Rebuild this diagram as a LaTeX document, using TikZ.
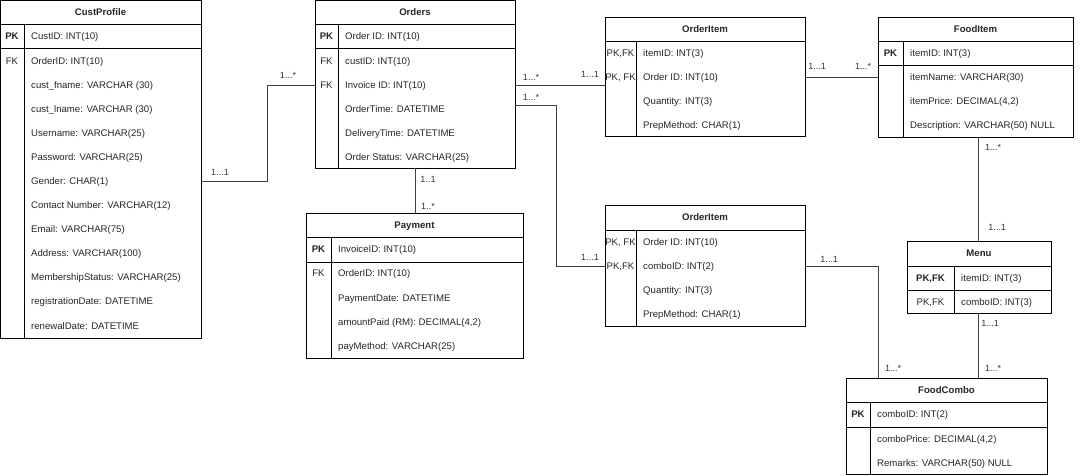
\documentclass[tikz,border=0pt]{standalone}
\usepackage{fontspec}
\setmainfont{Liberation Sans}
\newcommand\erfs{\fontsize{9.6}{11}\selectfont}
\newcommand\cardfs{\fontsize{9}{10}\selectfont}
\tikzset{
  ent/.style={draw=black, line width=1pt, inner sep=0pt, outer sep=0pt, anchor=north west, fill=white},
  sepline/.style={draw=black, line width=1pt},
  ttl/.style={font=\erfs\bfseries, text=black!85, inner sep=0pt, text height=6.9pt, text depth=0pt},
  attrib/.style={font=\erfs, text=black!85, inner sep=0pt, anchor=west, text height=6.9pt, text depth=0pt},
  keyt/.style={font=\erfs, text=black!85, inner sep=0pt, text height=6.9pt, text depth=0pt},
  keyb/.style={keyt, font=\erfs\bfseries},
  conn/.style={draw=black!75, line width=1pt},
  card/.style={font=\cardfs, text=black!80, inner sep=0pt, text height=6.5pt, text depth=0pt},
}
\begin{document}
\begin{tikzpicture}[x=1pt,y=-1pt]
\useasboundingbox (0,0) rectangle (1080,475);

% ---------------- CustProfile
\node[ent, minimum width=200.5pt, minimum height=337.5pt] (cust) at (0.5,0.5) {};
\draw[sepline] (0.5,24) -- (201,24);
\draw[sepline] (0.5,48) -- (201,48);
\draw[sepline] (24,24) -- (24,338);
\node[ttl] (custT) at (100.5,12) {CustProfile};
\node[keyb] (cK1) at (12,36) {PK};
\node[keyt] (cK2) at (12,61) {FK};
\node[attrib] (c1) at (31,36) {CustID: INT(10)};
\node[attrib] (c2) at (31,61) {OrderID: INT(10)};
\node[attrib] (c3) at (31,85) {cust\_fname: VARCHAR (30)};
\node[attrib] (c4) at (31,109) {cust\_lname: VARCHAR (30)};
\node[attrib] (c5) at (31,133) {Username: VARCHAR(25)};
\node[attrib] (c6) at (31,157) {Password: VARCHAR(25)};
\node[attrib] (c7) at (31,181) {Gender: CHAR(1)};
\node[attrib] (c8) at (31,205) {Contact Number: VARCHAR(12)};
\node[attrib] (c9) at (31,229) {Email: VARCHAR(75)};
\node[attrib] (c10) at (31,253) {Address: VARCHAR(100)};
\node[attrib] (c11) at (31,277) {MembershipStatus: VARCHAR(25)};
\node[attrib] (c12) at (31,301) {registrationDate: DATETIME};
\node[attrib] (c13) at (31,326) {renewalDate: DATETIME};

% ---------------- Orders
\node[ent, minimum width=200pt, minimum height=167.5pt] (ord) at (315,0.5) {};
\draw[sepline] (315,24) -- (515,24);
\draw[sepline] (315,48) -- (515,48);
\draw[sepline] (338,24) -- (338,168);
\node[ttl] (ordT) at (415,12) {Orders};
\node[keyb] (oK1) at (326.5,36) {PK};
\node[keyt] (oK2) at (326.5,61) {FK};
\node[keyt] (oK3) at (326.5,85) {FK};
\node[attrib] (o1) at (345,36) {Order ID: INT(10)};
\node[attrib] (o2) at (345,61) {custID: INT(10)};
\node[attrib] (o3) at (345,85) {Invoice ID: INT(10)};
\node[attrib] (o4) at (345,109) {OrderTime: DATETIME};
\node[attrib] (o5) at (345,133) {DeliveryTime: DATETIME};
\node[attrib] (o6) at (345,157) {Order Status: VARCHAR(25)};

% ---------------- Payment
\node[ent, minimum width=217pt, minimum height=145pt] (pay) at (306,213) {};
\draw[sepline] (306,237) -- (523,237);
\draw[sepline] (306,262) -- (523,262);
\draw[sepline] (331,237) -- (331,358);
\node[ttl] (payT) at (414.5,225) {Payment};
\node[keyb] (pK1) at (318.5,249) {PK};
\node[keyt] (pK2) at (318.5,273) {FK};
\node[attrib] (p1) at (338,249) {InvoiceID: INT(10)};
\node[attrib] (p2) at (338,273) {OrderID: INT(10)};
\node[attrib] (p3) at (338,298) {PaymentDate: DATETIME};
\node[attrib] (p4) at (338,322) {amountPaid (RM): DECIMAL(4,2)};
\node[attrib] (p5) at (338,346) {payMethod: VARCHAR(25)};

% ---------------- OrderItem (top)
\node[ent, minimum width=200pt, minimum height=119pt] (oia) at (605,17) {};
\draw[sepline] (605,41) -- (805,41);
\draw[sepline] (636,41) -- (636,136);
\node[ttl] (oiaT) at (705,29) {OrderItem};
\node[keyt] (aK1) at (620.5,53) {PK,FK};
\node[keyt] (aK2) at (620.5,77) {PK, FK};
\node[attrib] (a1) at (643,53) {itemID: INT(3)};
\node[attrib] (a2) at (643,77) {Order ID: INT(10)};
\node[attrib] (a3) at (643,101) {Quantity: INT(3)};
\node[attrib] (a4) at (643,125) {PrepMethod: CHAR(1)};

% ---------------- FoodItem
\node[ent, minimum width=195pt, minimum height=120pt] (fi) at (878,17) {};
\draw[sepline] (878,41) -- (1073,41);
\draw[sepline] (878,65) -- (1073,65);
\draw[sepline] (903,41) -- (903,137);
\node[ttl] (fiT) at (975.5,29) {FoodItem};
\node[keyb] (fK1) at (890.5,53) {PK};
\node[attrib] (f1) at (910,53) {itemID: INT(3)};
\node[attrib] (f2) at (910,77) {itemName: VARCHAR(30)};
\node[attrib] (f3) at (910,101) {itemPrice: DECIMAL(4,2)};
\node[attrib] (f4) at (910,125) {Description: VARCHAR(50) NULL};

% ---------------- OrderItem (bottom)
\node[ent, minimum width=200pt, minimum height=121pt] (oib) at (605,205) {};
\draw[sepline] (605,230) -- (805,230);
\draw[sepline] (636,230) -- (636,326);
\node[ttl] (oibT) at (705,217) {OrderItem};
\node[keyt] (bK1) at (620.5,242) {PK, FK};
\node[keyt] (bK2) at (620.5,266) {PK,FK};
\node[attrib] (b1) at (643,242) {Order ID: INT(10)};
\node[attrib] (b2) at (643,266) {comboID: INT(2)};
\node[attrib] (b3) at (643,290) {Quantity: INT(3)};
\node[attrib] (b4) at (643,314) {PrepMethod: CHAR(1)};

% ---------------- Menu
\node[ent, minimum width=144pt, minimum height=72pt] (menu) at (907,241) {};
\draw[sepline] (907,266) -- (1051,266);
\draw[sepline] (907,290) -- (1051,290);
\draw[sepline] (954,266) -- (954,313);
\node[ttl] (menuT) at (979,253) {Menu};
\node[keyb] (mK1) at (930.5,278) {PK,FK};
\node[keyt] (mK2) at (930.5,302) {PK,FK};
\node[attrib] (m1) at (961,278) {itemID: INT(3)};
\node[attrib] (m2) at (961,302) {comboID: INT(3)};

% ---------------- FoodCombo
\node[ent, minimum width=201pt, minimum height=96pt] (fc) at (846,378) {};
\draw[sepline] (846,402) -- (1047,402);
\draw[sepline] (846,427) -- (1047,427);
\draw[sepline] (870,402) -- (870,474);
\node[ttl] (fcT) at (946.5,390) {FoodCombo};
\node[keyb] (fcK1) at (858,414) {PK};
\node[attrib] (fc1) at (877,414) {comboID: INT(2)};
\node[attrib] (fc2) at (877,439) {comboPrice: DECIMAL(4,2)};
\node[attrib] (fc3) at (877,463) {Remarks: VARCHAR(50) NULL};

% ---------------- Connectors
\coordinate (j1) at (267,181);
\draw[conn] (cust.east |- c7) -- (j1) |- (ord.west |- o3);

\draw[conn] (ord.east |- o3) -- (oia.west |- o3);

\coordinate (j2) at (556,105);
\draw[conn] (ord.east |- j2) -- (j2) |- (oib.west |- b2);

\coordinate (j3) at (415,0);
\draw[conn] (j3 |- ord.south) -- (j3 |- pay.north);

\draw[conn] (oia.east |- a2) -- (fi.west |- a2);

\coordinate (j4) at (978,0);
\draw[conn] (j4 |- fi.south) -- (j4 |- menu.north);
\draw[conn] (j4 |- menu.south) -- (j4 |- fc.north);

\coordinate (j5) at (878,266);
\draw[conn] (oib.east |- b2) -- (j5) -- (j5 |- fc.north);

% ---------------- Cardinalities
\node[card] (l1) at (220,172) {1...1};
\node[card] (l2) at (288,75) {1...*};
\node[card] (l3) at (531,77) {1...*};
\node[card] (l4) at (590,74) {1...1};
\node[card] (l5) at (531,97) {1...*};
\node[card] (l6) at (590,257) {1...1};
\node[card] (l7) at (428,179) {1..1};
\node[card] (l8) at (428,206) {1..*};
\node[card] (l9) at (817,66) {1...1};
\node[card] (l10) at (863,66) {1...*};
\node[card] (l11) at (993,147) {1...*};
\node[card] (l12) at (997,227) {1...1};
\node[card] (l13) at (990,323) {1...1};
\node[card] (l14) at (993,368) {1...*};
\node[card] (l15) at (893,368) {1...*};
\node[card] (l16) at (829,259) {1...1};
\end{tikzpicture}
\end{document}
